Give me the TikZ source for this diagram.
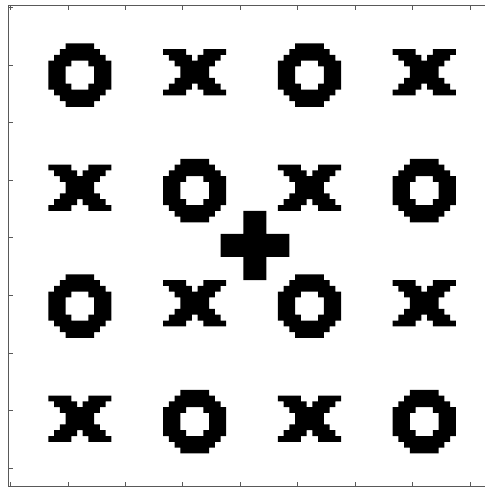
\documentclass[tikz,border=0pt]{standalone}
\tikzset{
  frameline/.style={draw=black!65, line width=0.9pt},
  tickline/.style={draw=black!65, line width=0.8pt},
  ringO/.pic={\fill[black, even odd rule]
    (3,0)--(8,0)--(8,1)--(9,1)--(9,2)--(10,2)--(10,3)--(11,3)--(11,8)--(10,8)--(10,9)--(9,9)--(9,10)--(8,10)--(8,11)--(3,11)--(3,10)--(2,10)--(2,9)--(1,9)--(1,8)--(0,8)--(0,3)--(1,3)--(1,2)--(2,2)--(2,1)--(3,1)--cycle
    (4,3)--(7,3)--(7,4)--(8,4)--(8,7)--(7,7)--(7,8)--(4,8)--(4,7)--(3,7)--(3,4)--(4,4)--cycle;},
  crossX/.pic={\fill[black]
    (0,0)--(4,0)--(4,1)--(5,1)--(5,2)--(6,2)--(6,1)--(7,1)--(7,0)--(11,0)--(11,1)--(10,1)--(10,2)--(9,2)--(9,3)--(8,3)--(8,5)--(9,5)--(9,6)--(10,6)--(10,7)--(11,7)--(11,8)--(7,8)--(7,7)--(6,7)--(6,6)--(5,6)--(5,7)--(4,7)--(4,8)--(0,8)--(0,7)--(1,7)--(1,6)--(2,6)--(2,5)--(3,5)--(3,3)--(2,3)--(2,2)--(1,2)--(1,1)--(0,1)--cycle;},
  plusP/.pic={\fill[black]
    (4,0)--(8,0)--(8,4)--(12,4)--(12,8)--(8,8)--(8,12)--(4,12)--(4,8)--(0,8)--(0,4)--(4,4)--cycle;}
}
\begin{document}
\begin{tikzpicture}[x=1pt,y=-1pt]
\useasboundingbox (0,0) rectangle (485,488);
\fill[white] (0,0) rectangle (485,488);
% symbols on the pixel grid
\begin{scope}[shift={(48.3,43.3)}, x=5.74pt, y=-5.775pt]
  \foreach \r in {0,...,3}{
    \foreach \c in {0,...,3}{
      \pgfmathtruncatemacro\parity{mod(\r+\c,2)}
      \ifnum\parity=0
        \pic at (\c*20,\r*20) {ringO};
      \else
        \pic at (\c*20,\r*20+1) {crossX};
      \fi
    }
  }
  \pic at (30,29) {plusP};
\end{scope}
% axes frame
\draw[frameline] (8.3,486.7) -- (8.3,5) -- (489,5) -- (489,486.7) -- cycle;
\foreach \k in {0,...,8}{
  \pgfmathsetmacro\tx{10.6+57.43*\k}
  \pgfmathsetmacro\ty{7.4+57.6*\k}
  \draw[tickline] (\tx,5) -- (\tx,9.5);
  \draw[tickline] (\tx,486.7) -- (\tx,482.2);
  \draw[tickline] (8.3,\ty) -- (12.8,\ty);
  \draw[tickline] (489,\ty) -- (484.5,\ty);
}
\end{tikzpicture}
\end{document}
